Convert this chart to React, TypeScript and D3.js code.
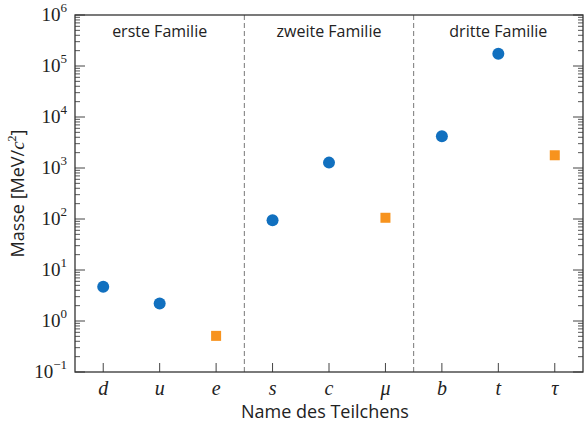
import { useEffect, useRef } from "react";
import * as d3 from "d3";

const particles = ["d", "u", "e", "s", "c", "μ", "b", "t", "τ"];
const masses = [4.7, 2.2, 0.511, 95, 1275, 105.7, 4180, 173000, 1777];
const kinds = ["quark", "quark", "lepton", "quark", "quark", "lepton", "quark", "quark", "lepton"];
const families = ["erste Familie", "zweite Familie", "dritte Familie"];
const decades = [-1, 0, 1, 2, 3, 4, 5, 6];

const W = 585;
const H = 423;
const margin = { top: 15, right: 2, bottom: 51, left: 75 };

export default function App() {
  const ref = useRef<SVGSVGElement>(null);

  useEffect(() => {
    if (!ref.current) return;
    const svg = d3.select(ref.current);
    svg.selectAll("*").remove();

    const iw = W - margin.left - margin.right;
    const ih = H - margin.top - margin.bottom;
    const x = d3.scalePoint<string>().domain(particles).range([0, iw]).padding(0.5);
    const y = d3.scaleLog().domain([0.1, 1e6]).range([ih, 0]);
    const step = x.step();

    const g = svg.append("g").attr("transform", `translate(${margin.left},${margin.top})`);

    // family separators
    [1, 2].forEach((i) => {
      g.append("line")
        .attr("x1", i * 3 * step)
        .attr("x2", i * 3 * step)
        .attr("y1", 0)
        .attr("y2", ih)
        .attr("stroke", "#777")
        .attr("stroke-width", 1)
        .attr("stroke-dasharray", "5,3");
    });

    families.forEach((f, i) => {
      g.append("text")
        .attr("x", (i * 3 + 1.5) * step)
        .attr("y", 22)
        .attr("text-anchor", "middle")
        .attr("font-family", "Open Sans")
        .attr("font-size", 16)
        .attr("fill", "#222")
        .text(f);
    });

    // ticks (inward)
    const majors = decades.map((e) => Math.pow(10, e));
    const minors: number[] = [];
    decades.slice(0, -1).forEach((e) => {
      for (let k = 2; k <= 9; k++) minors.push(k * Math.pow(10, e));
    });
    const tickColor = "#444";
    [0, iw].forEach((x0) => {
      const dir = x0 === 0 ? 1 : -1;
      majors.forEach((v) => {
        g.append("line")
          .attr("x1", x0).attr("x2", x0 + dir * 10)
          .attr("y1", y(v)).attr("y2", y(v))
          .attr("stroke", tickColor).attr("stroke-width", 1);
      });
      minors.forEach((v) => {
        g.append("line")
          .attr("x1", x0).attr("x2", x0 + dir * 5)
          .attr("y1", y(v)).attr("y2", y(v))
          .attr("stroke", tickColor).attr("stroke-width", 0.9);
      });
    });
    particles.forEach((p) => {
      g.append("line")
        .attr("x1", x(p)!).attr("x2", x(p)!)
        .attr("y1", ih).attr("y2", ih - 9)
        .attr("stroke", tickColor).attr("stroke-width", 1);
    });

    // frame
    g.append("rect")
      .attr("width", iw).attr("height", ih)
      .attr("fill", "none").attr("stroke", "#333").attr("stroke-width", 1.3);

    // y tick labels
    decades.forEach((e) => {
      const t = g.append("text")
        .attr("x", -8)
        .attr("y", y(Math.pow(10, e)) + 6)
        .attr("text-anchor", "end")
        .attr("font-family", "Liberation Serif")
        .attr("font-size", 19)
        .attr("fill", "#222");
      t.append("tspan").text("10");
      t.append("tspan").attr("dy", -9).attr("font-size", 13).text(String(e).replace("-", "−"));
    });

    // x tick labels
    particles.forEach((p) => {
      g.append("text")
        .attr("x", x(p)!)
        .attr("y", ih + 23)
        .attr("text-anchor", "middle")
        .attr("font-family", "Liberation Serif")
        .attr("font-style", "italic")
        .attr("font-size", 20)
        .attr("fill", "#222")
        .text(p);
    });

    // axis titles
    g.append("text")
      .attr("x", iw / 2 - 4)
      .attr("y", ih + 46)
      .attr("text-anchor", "middle")
      .attr("font-family", "Open Sans")
      .attr("font-size", 18)
      .attr("fill", "#222")
      .text("Name des Teilchens");

    const yl = g.append("text")
      .attr("transform", `translate(-51,${ih / 2}) rotate(-90)`)
      .attr("text-anchor", "middle")
      .attr("font-family", "Open Sans")
      .attr("font-size", 18)
      .attr("fill", "#222");
    yl.append("tspan").text("Masse [MeV/");
    yl.append("tspan").attr("font-family", "Liberation Serif").attr("font-style", "italic").attr("font-size", 19).text("c");
    yl.append("tspan").attr("dy", -8).attr("font-size", 12).attr("font-family", "Liberation Serif").text("2");
    yl.append("tspan").attr("dy", 8).text("]");

    // points
    particles.forEach((p, i) => {
      const cx = x(p)!;
      const cy = y(masses[i]);
      if (kinds[i] === "quark") {
        g.append("circle").attr("cx", cx).attr("cy", cy).attr("r", 6).attr("fill", "#1170bf");
      } else {
        g.append("rect")
          .attr("x", cx - 5).attr("y", cy - 5)
          .attr("width", 10).attr("height", 10)
          .attr("fill", "#f7931e");
      }
    });
  }, []);

  return (
    <svg
      ref={ref}
      width={W}
      height={H}
      style={{ position: "absolute", left: 0, top: 0, background: "#fff" }}
    />
  );
}
